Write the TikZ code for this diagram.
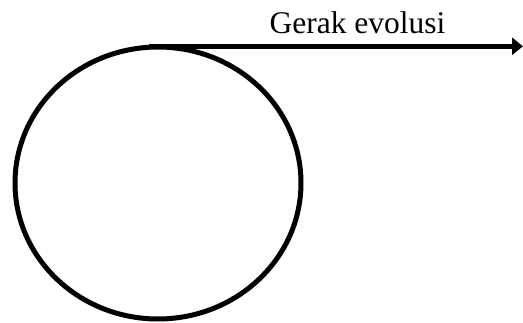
\documentclass[tikz,border=0pt]{standalone}
\usepackage{fontspec}
\setmainfont{Liberation Serif}
\usepackage{tikz}
\usetikzlibrary{shapes.geometric, arrows.meta, positioning}

\begin{document}
\begin{tikzpicture}[x=1pt, y=1pt, line width=5pt]
  \useasboundingbox (0,0) rectangle (523,322);
  % orbit
  \node[draw, ellipse, minimum width=286pt, minimum height=272pt, inner sep=0pt] (orbit) at (158,139) {};
  \coordinate (start) at (149,275.7);
  \coordinate (tip) at (523,275.7);
  \draw[-{Triangle[length=11pt, width=17pt]}] (start) -- (tip);
  \node[anchor=base, inner sep=0pt, font=\fontsize{31.5}{38}\selectfont] (label) at (357.5,288) {Gerak evolusi};
\end{tikzpicture}
\end{document}
